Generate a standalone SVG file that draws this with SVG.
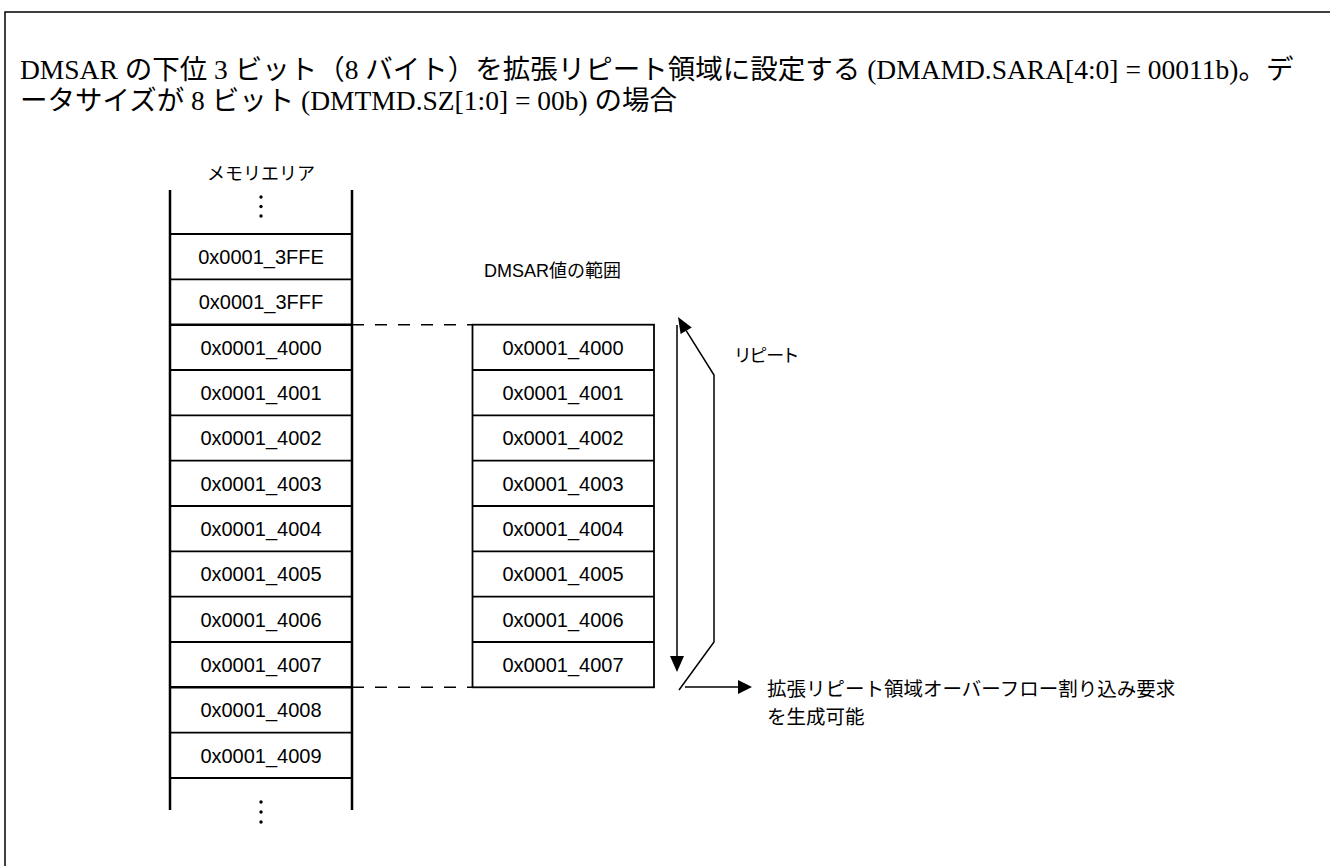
<svg xmlns="http://www.w3.org/2000/svg" width="1330" height="866" viewBox="0 0 1330 866">
<style>
.title{font-family:"Liberation Serif","Noto Sans CJK JP",serif;font-size:27.5px;fill:#000}
.cell{font-family:"Liberation Sans","Noto Sans CJK JP",sans-serif;font-size:20px;fill:#000;text-anchor:middle}
.lbl{font-family:"Liberation Sans","Noto Sans CJK JP",sans-serif;font-size:18px;fill:#000}
.box{fill:#fff;stroke:#000;stroke-width:1.8}
.col{stroke:#000;stroke-width:2.5;fill:none}
.thin{stroke:#000;stroke-width:1.8;fill:none}
.dash{stroke:#000;stroke-width:1.6;stroke-dasharray:12 11;fill:none}
.ln{stroke:#000;stroke-width:1.5;fill:none}
.ah{fill:#000;stroke:none}
</style>
<rect width="1330" height="866" fill="#fff"/>
<path d="M5 866V12H1330" class="ln"/>
<g id="title">
<text class="title" x="20" y="79">DMSAR の下位 3 ビット（8 バイト）を拡張リピート領域に設定する (DMAMD.SARA[4:0] = 00011b)。デ</text>
<text class="title" x="20" y="110">ータサイズが 8 ビット (DMTMD.SZ[1:0] = 00b) の場合</text>
</g>
<g id="memory-area">
<text class="lbl" x="261" y="180" text-anchor="middle">メモリエリア</text>
<g class="thin">
<line x1="170" y1="234" x2="352" y2="234"/>
<line x1="170" y1="279.3" x2="352" y2="279.3"/>
<line x1="170" y1="370" x2="352" y2="370"/>
<line x1="170" y1="415.3" x2="352" y2="415.3"/>
<line x1="170" y1="460.7" x2="352" y2="460.7"/>
<line x1="170" y1="506" x2="352" y2="506"/>
<line x1="170" y1="551.3" x2="352" y2="551.3"/>
<line x1="170" y1="596.7" x2="352" y2="596.7"/>
<line x1="170" y1="642" x2="352" y2="642"/>
<line x1="170" y1="732.7" x2="352" y2="732.7"/>
<line x1="170" y1="778" x2="352" y2="778"/>
</g>
<g class="col">
<line x1="170" y1="324.7" x2="352" y2="324.7"/>
<line x1="170" y1="687.3" x2="352" y2="687.3"/>
<line x1="170" y1="190" x2="170" y2="810"/>
<line x1="352" y1="190" x2="352" y2="810"/>
</g>
<g class="ah">
<circle cx="261" cy="197" r="1.7"/><circle cx="261" cy="206.5" r="1.7"/><circle cx="261" cy="216" r="1.7"/>
<circle cx="261" cy="802" r="1.7"/><circle cx="261" cy="812" r="1.7"/><circle cx="261" cy="822" r="1.7"/>
</g>
<text class="cell" x="261" y="264">0x0001_3FFE</text>
<text class="cell" x="261" y="309.3">0x0001_3FFF</text>
<text class="cell" x="261" y="354.7">0x0001_4000</text>
<text class="cell" x="261" y="400">0x0001_4001</text>
<text class="cell" x="261" y="445.3">0x0001_4002</text>
<text class="cell" x="261" y="490.7">0x0001_4003</text>
<text class="cell" x="261" y="536">0x0001_4004</text>
<text class="cell" x="261" y="581.3">0x0001_4005</text>
<text class="cell" x="261" y="626.7">0x0001_4006</text>
<text class="cell" x="261" y="672">0x0001_4007</text>
<text class="cell" x="261" y="717.3">0x0001_4008</text>
<text class="cell" x="261" y="762.7">0x0001_4009</text>
</g>
<g id="dmsar-range">
<text class="lbl" x="484" y="277">DMSAR値の範囲</text>
<rect class="box" x="472.5" y="324.7" width="181.5" height="362.6"/>
<g class="thin">
<line x1="472.5" y1="370" x2="654" y2="370"/>
<line x1="472.5" y1="415.3" x2="654" y2="415.3"/>
<line x1="472.5" y1="460.7" x2="654" y2="460.7"/>
<line x1="472.5" y1="506" x2="654" y2="506"/>
<line x1="472.5" y1="551.3" x2="654" y2="551.3"/>
<line x1="472.5" y1="596.7" x2="654" y2="596.7"/>
<line x1="472.5" y1="642" x2="654" y2="642"/>
</g>
<text class="cell" x="563" y="354.7">0x0001_4000</text>
<text class="cell" x="563" y="400">0x0001_4001</text>
<text class="cell" x="563" y="445.3">0x0001_4002</text>
<text class="cell" x="563" y="490.7">0x0001_4003</text>
<text class="cell" x="563" y="536">0x0001_4004</text>
<text class="cell" x="563" y="581.3">0x0001_4005</text>
<text class="cell" x="563" y="626.7">0x0001_4006</text>
<text class="cell" x="563" y="672">0x0001_4007</text>
</g>
<g id="repeat-label">
<text class="lbl" x="735" y="362" style="font-feature-settings:'palt'">リピート</text>
</g>
<g id="overflow-label">
<text class="lbl" x="767" y="696" style="font-size:19.5px">拡張リピート領域オーバーフロー割り込み要求</text>
<text class="lbl" x="767" y="724" style="font-size:19.5px">を生成可能</text>
</g>
<g id="connectors">
<line class="dash" x1="352" y1="324.7" x2="472.5" y2="324.7"/>
<line class="dash" x1="352" y1="687.3" x2="472.5" y2="687.3"/>
<line class="ln" x1="677" y1="325" x2="677" y2="657"/>
<polygon class="ah" points="677,672 670,656 684,656"/>
<polyline class="ln" points="679,690 714,642 714,375 686.2,330.7"/>
<polygon class="ah" points="678,317 691.8,327.4 680.6,334"/>
<line class="ln" x1="685" y1="687" x2="739" y2="687"/>
<polygon class="ah" points="752,687 738,680 738,694"/>
</g>
</svg>
